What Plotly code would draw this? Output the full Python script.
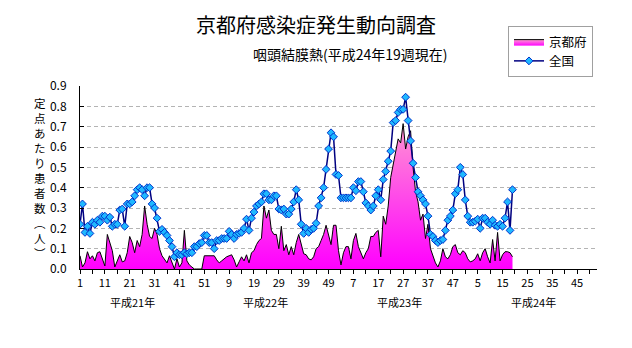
import plotly.graph_objects as go

# ---- data ----
kyoto = [
    0.065, 0.01, 0.03, 0.085, 0.05, 0.065, 0.04, 0.08, 0.085, 0.05,
    0.015, 0.17, 0.13, 0.09, 0.01, 0.04, 0.07, 0.035, 0.04, 0.08,
    0.16, 0.13, 0.08, 0.14, 0.11, 0.17, 0.31, 0.22, 0.16, 0.15,
    0.20, 0.17, 0.10, 0.065, 0.05, 0.03, 0.065, 0.03, 0.0, 0.05,
    0.01, 0.03, 0.19, 0.04, 0.02, 0.01, 0.0, 0.0, 0.0, 0.0,
    0.065, 0.065, 0.065, 0.065, 0.065, 0.045, 0.03, 0.04, 0.05, 0.06,
    0.065, 0.07, 0.045, 0.01, 0.035, 0.06, 0.04, 0.07, 0.03, 0.08,
    0.09, 0.12, 0.14, 0.15, 0.31, 0.25, 0.29, 0.19, 0.17, 0.17,
    0.10, 0.21, 0.09, 0.12, 0.07, 0.11, 0.07, 0.13, 0.17, 0.12,
    0.075, 0.07, 0.05, 0.045, 0.06, 0.10, 0.11, 0.14, 0.17, 0.215,
    0.16, 0.12, 0.215, 0.215, 0.09, 0.02, 0.08, 0.11, 0.11, 0.05,
    0.14, 0.175, 0.11, 0.08, 0.05, 0.08, 0.10, 0.16, 0.16, 0.18,
    0.19, 0.06, 0.26, 0.22, 0.31, 0.45, 0.52, 0.59, 0.64, 0.62,
    0.715, 0.59, 0.65, 0.68, 0.50, 0.38, 0.33, 0.24, 0.27, 0.15,
    0.22, 0.10, 0.06, 0.03, 0.01, 0.04, 0.10, 0.06, 0.05, 0.07,
    0.11, 0.12, 0.08, 0.07, 0.09, 0.08, 0.05, 0.035, 0.04, 0.05,
    0.075, 0.04, 0.08, 0.10, 0.06, 0.03, 0.145, 0.04, 0.18, 0.04,
    0.07, 0.085, 0.085, 0.08, 0.06,
]

zenkoku = [
    0.22, 0.32, 0.18, 0.21, 0.175, 0.23, 0.22, 0.24, 0.23, 0.26,
    0.26, 0.24, 0.255, 0.21, 0.22, 0.22, 0.29, 0.295, 0.21, 0.32,
    0.32, 0.33, 0.36, 0.39, 0.40, 0.39, 0.36, 0.40, 0.40, 0.32,
    0.30, 0.25, 0.185, 0.195, 0.18, 0.165, 0.14, 0.11, 0.06, 0.08,
    0.07, 0.07, 0.08, 0.075, 0.08, 0.08, 0.11, 0.11, 0.125, 0.13,
    0.165, 0.165, 0.13, 0.13, 0.10, 0.14, 0.14, 0.15, 0.15, 0.15,
    0.185, 0.17, 0.15, 0.17, 0.175, 0.18, 0.20, 0.245, 0.19, 0.25,
    0.28, 0.31, 0.32, 0.33, 0.37, 0.37, 0.34, 0.34, 0.36, 0.36,
    0.295, 0.29, 0.295, 0.27, 0.27, 0.295, 0.33, 0.39, 0.34, 0.22,
    0.175, 0.20, 0.18, 0.195, 0.20, 0.225, 0.31, 0.35, 0.40, 0.49,
    0.59, 0.67, 0.65, 0.465, 0.46, 0.35, 0.35, 0.35, 0.35, 0.35,
    0.40, 0.385, 0.43, 0.43, 0.38, 0.325, 0.31, 0.29, 0.31, 0.36,
    0.39, 0.34, 0.44, 0.48, 0.53, 0.58, 0.72, 0.73, 0.77, 0.785,
    0.785, 0.845, 0.73, 0.63, 0.52, 0.45, 0.38, 0.36, 0.34, 0.32,
    0.26, 0.17, 0.16, 0.14, 0.13, 0.14, 0.145, 0.19, 0.24, 0.26,
    0.29, 0.37, 0.39, 0.50, 0.465, 0.34, 0.26, 0.23, 0.23, 0.235,
    0.245, 0.20, 0.25, 0.25, 0.23, 0.22, 0.24, 0.215, 0.21, 0.22,
    0.21, 0.25, 0.33, 0.19, 0.39,
]

tick_labels = ["1", "11", "21", "31", "41", "51", "9", "19", "29", "39", "49",
               "7", "17", "27", "37", "47", "5", "15", "25", "35", "45"]
year_labels = ["平成21年", "平成22年", "平成23年", "平成24年"]
series_names = ["京都府", "全国"]

title_text = "京都府感染症発生動向調査"
subtitle_text = "咽頭結膜熱(平成24年19週現在)"
ytitle_chars = ["定", "点", "あ", "た", "り", "患", "者", "数", "︵", "人", "︶"]

# ---- figure ----
idx = list(range(1, len(zenkoku) + 1))
FONT = "Noto Sans CJK JP"

fig = go.Figure()
fig.add_trace(go.Scatter(
    x=idx, y=kyoto, name=series_names[0], mode="lines",
    line=dict(color="black", width=1),
    fill="tozeroy",
    fillgradient=dict(type="vertical", start=0, stop=0.75,
                      colorscale=[[0, "#FF00FF"], [1, "#FF9CD0"]]),
))
fig.add_trace(go.Scatter(
    x=idx, y=zenkoku, name=series_names[1], mode="lines+markers",
    line=dict(color="#000080", width=1.5),
    marker=dict(symbol="diamond", size=6, color="#1FB8FF",
                line=dict(color="#0033CC", width=1)),
))

tickvals = [1 + 10 * i for i in range(len(tick_labels))]
year_pos = [22, 75.5, 129.5, 183.5]

annotations = []
for lab, p in zip(year_labels, year_pos):
    annotations.append(dict(x=p, y=0, xref="x", yref="paper", text=lab,
                            showarrow=False, xanchor="center", yanchor="top",
                            yshift=-23, font=dict(family=FONT, size=11)))
annotations.append(dict(x=(350 - 80) / 517, y=(269 - 54) / 183, xref="paper",
                        yref="paper", text=subtitle_text, showarrow=False,
                        xanchor="center", yanchor="middle",
                        font=dict(family=FONT, size=14)))
annotations.append(dict(x=(40 - 80) / 517, y=(269 - 178) / 183, xref="paper",
                        yref="paper", text="<br>".join(ytitle_chars),
                        showarrow=False, xanchor="center", yanchor="middle",
                        font=dict(family=FONT, size=11.5)))

fig.update_layout(
    width=632, height=348,
    margin=dict(l=80, r=35, t=86, b=79),
    paper_bgcolor="white", plot_bgcolor="white",
    font=dict(family=FONT, size=11, color="black"),
    title=dict(text=title_text, x=316 / 632, xanchor="center",
               y=1 - 26 / 348, yanchor="middle",
               font=dict(family=FONT, size=20, color="black")),
    showlegend=True,
    legend=dict(x=(508 - 80) / 517, y=(269 - 26) / 183, xanchor="left",
                yanchor="top", bordercolor="#A0A0A0", borderwidth=1,
                bgcolor="white", font=dict(family=FONT, size=12.5),
                itemwidth=30, tracegroupgap=0),
    annotations=annotations,
)
fig.update_xaxes(
    range=[1, 209], showline=True, linecolor="black", linewidth=1,
    ticks="outside", ticklen=4, tickcolor="black",
    tickvals=tickvals, ticktext=tick_labels,
    minor=dict(tickvals=list(range(1, 210, 5)), ticks="outside", ticklen=4,
               tickcolor="black"),
    showgrid=False, zeroline=False, tickfont=dict(family=FONT, size=11),
)
fig.update_yaxes(
    range=[0, 0.9], dtick=0.1, tick0=0, tickformat=".1f",
    showline=True, linecolor="black", linewidth=1,
    ticks="inside", ticklen=4, tickcolor="black",
    showgrid=True, gridcolor="#B4B4B4", griddash="4px,3px", gridwidth=1,
    zeroline=False, ticklabelstandoff=10,
    tickfont=dict(family=FONT, size=12),
)

fig.write_html("out.html")
